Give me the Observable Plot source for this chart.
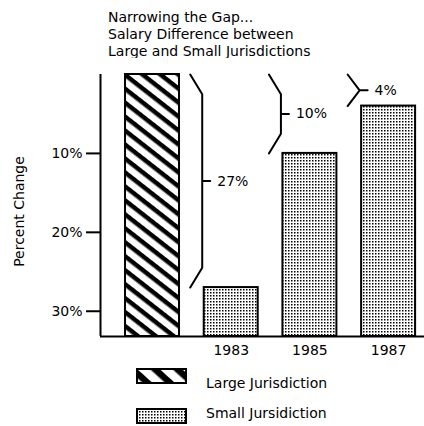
<!DOCTYPE html>
<html><head><meta charset="utf-8">
<script src="https://cdn.jsdelivr.net/npm/d3@7"></script>
<script src="https://cdn.jsdelivr.net/npm/@observablehq/plot@0.6"></script>
<style>
body{margin:0;width:424px;height:426px;overflow:hidden;position:relative;font-family:"DejaVu Sans",sans-serif;color:#000;background:#fff}
#title{position:absolute;left:108px;top:9px;font-size:14px;line-height:17px;white-space:nowrap}
#chart{position:absolute;left:0;top:58px}
.sw{position:absolute;left:136px;width:51px}
.lt{position:absolute;left:206px;font-size:14px;line-height:16px;white-space:nowrap}
</style></head><body>
<div id="title"></div><div id="chart"></div><div id="legend"></div>
<script>
// ---- data ----
const titleLines = ["Narrowing the Gap...", "Salary Difference between", "Large and Small Jurisdictions"];
const yLabel = "Percent Change";
const groups = ["Large Jurisdiction", "Small Jurisdiction"];
const legendLabels = ["Large Jurisdiction", "Small Jursidiction"];
const years = ["1983", "1985", "1987"];
const smallGap = [27, 10, 4];      // % gap below large jurisdictions
const largeGap = 0;
const axisMax = 33.2;              // bottom of the percent-change axis
const yTicks = [10, 20, 30];

// ---- layout constants (style) ----
const hw = 0.343;                  // half bar width in slot units
const unit = 78.7;                 // px per slot
const bBack = -14 / unit, bTip = -2 / unit, bTick = 6 / unit, bLabel = 13 / unit;

const bars = [{pos: 0, group: groups[0], gap: largeGap}]
  .concat(years.map((y, k) => ({pos: k + 1, group: groups[1], gap: smallGap[k], year: y})));
const small = bars.filter(d => d.group === groups[1]);

const braces = small.flatMap(d => {
  const s = d.pos - hw, g = d.gap, h = Math.min(2.5, g / 2);
  return [
    [s + bBack, 0], [s + bTip, h], [s + bTip, g / 2], [s + bTick, g / 2],
    [s + bTip, g / 2], [s + bTip, g - h], [s + bBack, g]
  ].map(([x, y]) => ({year: d.year, x, y}));
});

document.getElementById("title").innerHTML = titleLines.join("<br>");

const svg = Plot.plot({
  width: 424, height: 300,
  marginLeft: 100, marginRight: 0, marginTop: 16, marginBottom: 22,
  style: {fontFamily: "DejaVu Sans", fontSize: "14px", background: "white", overflow: "visible"},
  x: {type: "linear", domain: [-0.661, 3.456]},
  y: {domain: [0, axisMax], reverse: true},
  color: {type: "ordinal", domain: groups, range: ["url(#hatch)", "url(#dots)"]},
  marks: [
    Plot.rect(bars, {x1: d => d.pos - hw, x2: d => d.pos + hw, y1: "gap", y2: axisMax,
      fill: "group", stroke: "black", strokeWidth: 2}),
    Plot.ruleY([axisMax], {strokeWidth: 2}),
    Plot.ruleX([-0.661], {strokeWidth: 2}),
    Plot.axisY({ticks: yTicks, tickFormat: d => d + "%", tickSize: 14, tickPadding: 4,
      fontSize: 14, strokeWidth: 2, label: null}),
    Plot.axisX({ticks: [1, 2, 3], tickFormat: i => years[i - 1], tickSize: 0, tickPadding: 9,
      fontSize: 14, label: null}),
    Plot.line(braces, {x: "x", y: "y", z: "year", stroke: "black", strokeWidth: 2}),
    Plot.text(small, {x: d => d.pos - hw + bLabel, y: d => d.gap / 2, text: d => d.gap + "%",
      textAnchor: "start", fontSize: 14}),
    Plot.text([yLabel], {frameAnchor: "left", textAnchor: "middle", text: d => d, rotate: -90,
      dx: -81, dy: 6, fontSize: 14})
  ]
});
d3.select(svg).insert("defs", ":first-child").html(`
  <pattern id="hatch" patternUnits="userSpaceOnUse" width="11" height="11" patternTransform="rotate(38)">
    <rect width="11" height="11" fill="white"/><rect width="11" height="4.5" fill="black"/></pattern>
  <pattern id="dots" patternUnits="userSpaceOnUse" width="3" height="3">
    <rect width="3" height="3" fill="white"/><rect width="1.5" height="1.5" fill="black"/></pattern>`);
document.getElementById("chart").appendChild(svg);

// ---- legend ----
const swFill = [
  `<pattern id="hatchL" patternUnits="userSpaceOnUse" width="15" height="15" patternTransform="rotate(42)">
     <rect width="15" height="15" fill="white"/><rect width="15" height="6.5" fill="black"/></pattern>`,
  `<pattern id="dotsL" patternUnits="userSpaceOnUse" width="3" height="3">
     <rect width="3" height="3" fill="white"/><rect width="1.5" height="1.5" fill="black"/></pattern>`];
const swIds = ["hatchL", "dotsL"];
const swTop = [368, 408], txtTop = [375, 405];
const legend = document.getElementById("legend");
legendLabels.forEach((lab, i) => {
  legend.insertAdjacentHTML("beforeend",
    `<svg class="sw" style="top:${swTop[i]}px" width="51" height="16"><defs>${swFill[i]}</defs>
       <rect x="1" y="1" width="49" height="14" fill="url(#${swIds[i]})" stroke="black" stroke-width="2"/></svg>
     <div class="lt" style="top:${txtTop[i]}px">${lab}</div>`);
});
</script></body></html>
